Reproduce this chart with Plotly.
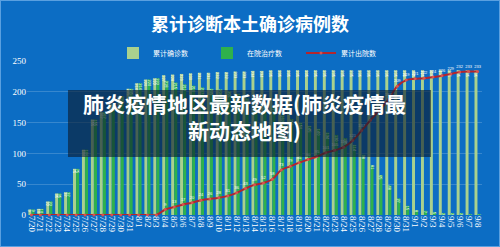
import plotly.graph_objects as go

dates = ["7/20","7/21","7/22","7/23","7/24","7/25","7/26","7/27","7/28","7/29","7/30","7/31",
         "8/1","8/2","8/3","8/4","8/5","8/6","8/7","8/8","8/9","8/10","8/11","8/12","8/13",
         "8/14","8/15","8/16","8/17","8/18","8/19","8/20","8/21","8/22","8/23","8/24","8/25",
         "8/26","8/27","8/28","8/29","8/30","8/31","9/1","9/2","9/3","9/4","9/5","9/6","9/7","9/8"]

confirmed = [9,10,22,35,37,75,106,155,167,180,193,205,
             214,220,222,227,228,229,230,231,231,232,232,233,233,
             234,234,235,235,235,235,235,235,235,235,235,235,
             235,235,235,235,235,235,235,235,235,235,235,235,235,235]

in_hospital = [9,10,22,35,37,75,106,155,167,180,193,205,
               214,220,222,218,215,212,210,207,205,204,201,197,190,
               185,182,177,162,156,150,145,140,134,130,125,114,
               98,81,65,48,27,15,8,7,5,2,2,2,1,1]

discharged = [0,0,0,0,0,0,0,0,0,0,0,0,
              0,0,0,9,13,17,20,24,26,28,31,36,43,
              49,52,58,73,79,85,90,95,101,105,110,121,
              137,154,170,187,209,219,221,222,224,226,229,232,233,233]

BG = "#0c6dc4"
FONT_CJK = "Noto Sans CJK SC"

fig = go.Figure()
fig.add_trace(go.Bar(
    x=dates, y=confirmed, name="累计确诊数",
    marker=dict(color="#a9d18e", line=dict(width=0)),
    text=confirmed, textposition="inside", insidetextanchor="end",
    textangle=90, constraintext="none",
    textfont=dict(size=4, color="white", family="Liberation Sans"),
))
fig.add_trace(go.Bar(
    x=dates, y=in_hospital, name="在院治疗数",
    marker=dict(color="#2fb14c", line=dict(width=0)),
    text=in_hospital, textposition="inside", insidetextanchor="end",
    textangle=90, constraintext="none",
    textfont=dict(size=4, color="white", family="Liberation Sans"),
))
fig.add_trace(go.Scatter(
    x=dates, y=discharged, name="累计出院数", mode="lines+markers+text",
    line=dict(color="#b3262e", width=2, shape="spline"),
    marker=dict(color="#d9534f", size=3),
    text=[str(v) if v > 0 else "" for v in discharged],
    textposition="top center",
    textfont=dict(size=4, color="white", family="Liberation Sans"),
    cliponaxis=False,
))

fig.update_layout(
    width=500, height=247,
    margin=dict(l=27, r=18, t=61, b=32, autoexpand=False),
    paper_bgcolor=BG, plot_bgcolor=BG,
    barmode="group", bargap=0.3, bargroupgap=0.05,
    showlegend=True,
    legend=dict(orientation="h", x=0.189, xanchor="left", y=1.052, yanchor="middle",
                font=dict(size=7, color="white", family=FONT_CJK),
                bgcolor="rgba(0,0,0,0)", entrywidth=49, itemwidth=30,
                traceorder="normal"),
    title=dict(text="累计诊断本土确诊病例数", x=0.5, xanchor="center", y=0.899, yanchor="middle",
               font=dict(size=18, color="white", family=FONT_CJK, weight="bold")),
    font=dict(family="Liberation Serif", color="white"),
    xaxis=dict(type="category", tickangle=90, showgrid=False, zeroline=False,
               range=[-0.5, len(dates) - 0.5],
               tickmode="array", tickvals=dates, ticktext=dates, automargin=False,
               tickfont=dict(size=9, color="white", family="Liberation Serif"),
               ticks="", showline=False),
    yaxis=dict(range=[0, 250], dtick=50, showgrid=True, automargin=False,
               gridcolor="rgba(255,255,255,0.18)", gridwidth=1, zeroline=False,
               tickfont=dict(size=9, color="white", family="Liberation Serif"),
               ticks="", showline=False),
    shapes=[
        dict(type="rect", xref="paper", yref="paper", x0=0.0901, x1=0.888, y0=0.3766, y1=0.8117,
             fillcolor="rgba(12,28,45,0.62)", line=dict(width=0), layer="above"),
        dict(type="rect", xref="paper", yref="paper",
             x0=-27/455, x1=1+18/455, y0=-32/154, y1=1+61/154,
             line=dict(color="#5aa0e0", width=2), fillcolor="rgba(0,0,0,0)", layer="above"),
    ],
    annotations=[
        dict(text="肺炎疫情地区最新数据(肺炎疫情最<br>新动态地图)", xref="paper", yref="paper",
             x=0.479, y=0.64, xanchor="center", yanchor="middle", showarrow=False,
             align="center",
             font=dict(size=21, color="white", family=FONT_CJK, weight="bold")),
    ],
)

fig.write_html("out.html")
